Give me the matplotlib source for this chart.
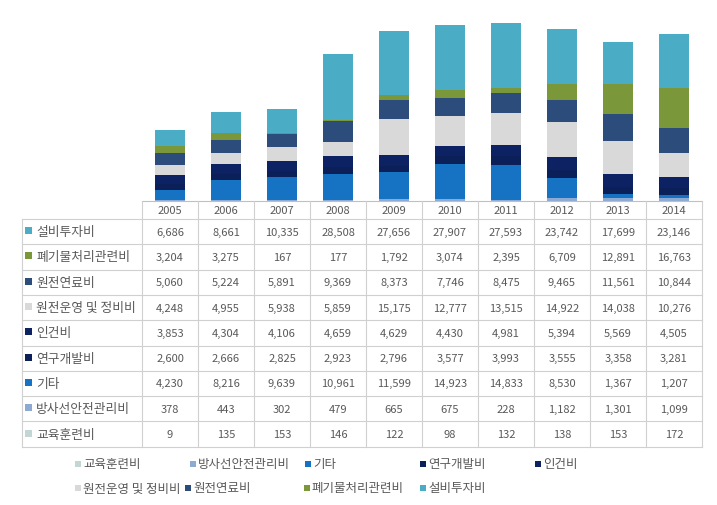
import matplotlib
matplotlib.use("Agg")
import matplotlib.pyplot as plt
from matplotlib.patches import Rectangle

plt.rcParams['font.family'] = ['Noto Sans CJK KR', 'DejaVu Sans']

years = ["2005", "2006", "2007", "2008", "2009", "2010", "2011", "2012", "2013", "2014"]

# stacking order (bottom -> top)
series_names = ["교육훈련비", "방사선안전관리비", "기타", "연구개발비", "인건비",
                "원전운영 및 정비비", "원전연료비", "폐기물처리관련비", "설비투자비"]

edu = [9, 135, 153, 146, 122, 98, 132, 138, 153, 172]
radiation = [378, 443, 302, 479, 665, 675, 228, 1182, 1301, 1099]
etc = [4230, 8216, 9639, 10961, 11599, 14923, 14833, 8530, 1367, 1207]
rnd = [2600, 2666, 2825, 2923, 2796, 3577, 3993, 3555, 3358, 3281]
labor = [3853, 4304, 4106, 4659, 4629, 4430, 4981, 5394, 5569, 4505]
operation = [4248, 4955, 5938, 5859, 15175, 12777, 13515, 14922, 14038, 10276]
fuel = [5060, 5224, 5891, 9369, 8373, 7746, 8475, 9465, 11561, 10844]
waste = [3204, 3275, 167, 177, 1792, 3074, 2395, 6709, 12891, 16763]
capex = [6686, 8661, 10335, 28508, 27656, 27907, 27593, 23742, 17699, 23146]

series_values = [edu, radiation, etc, rnd, labor, operation, fuel, waste, capex]
colors = ["#c3d6d6", "#8eaad2", "#1673c4", "#0b1f58", "#0c2262",
          "#d9d9d9", "#2c4d7b", "#7a983a", "#4bacc6"]

W, H = 717, 506
fig = plt.figure(figsize=(W / 100, H / 100), dpi=100)

# pixel geometry
x_left_tab = 22
x_lab_right = 142
col_w = 56
x_right = x_lab_right + col_w * len(years)
y_axis = 202
y_plot_top = 15
y_head_bottom = 220
row_h = 25.3

def fx(px):
    return px / W

def fy(py):
    return 1 - py / H

ax = fig.add_axes([fx(x_lab_right), fy(y_axis), fx(x_right) - fx(x_lab_right), fy(y_plot_top) - fy(y_axis)])
bottom = [0] * len(years)
xs = list(range(len(years)))
for name, vals, c in zip(series_names, series_values, colors):
    ax.bar(xs, vals, width=0.55, bottom=bottom, color=c, label=name, linewidth=0)
    bottom = [b + v for b, v in zip(bottom, vals)]
ax.set_xlim(-0.5, len(years) - 0.5)
ax.set_ylim(0, 80000)
ax.axis('off')

# overlay for table and legend, in pixel coordinates
ov = fig.add_axes([0, 0, 1, 1])
ov.set_xlim(0, W)
ov.set_ylim(H, 0)
ov.axis('off')
ov.patch.set_alpha(0)

grid_c = "#d0d0d0"
text_c = "#595959"
n_rows = len(series_names)
y_bottom_tab = y_head_bottom + row_h * n_rows

# axis line / header top
ov.plot([x_lab_right, x_right], [y_axis, y_axis], color="#c0c0c0", lw=0.8)
# vertical lines
for i in range(len(years) + 1):
    x = x_lab_right + i * col_w
    ov.plot([x, x], [y_axis, y_bottom_tab], color=grid_c, lw=0.8)
ov.plot([x_left_tab, x_left_tab], [y_head_bottom, y_bottom_tab], color=grid_c, lw=0.8)
# horizontal lines
for r in range(n_rows + 1):
    y = y_head_bottom + r * row_h
    ov.plot([x_left_tab, x_right], [y, y], color=grid_c, lw=0.8)

# header years
for i, yr in enumerate(years):
    ov.text(x_lab_right + (i + 0.5) * col_w, (y_axis + y_head_bottom) / 2 + 0.5, yr,
            ha='center', va='center', fontsize=8, color=text_c)

# rows (top = last series)
for r, idx in enumerate(reversed(range(n_rows))):
    yc = y_head_bottom + (r + 0.5) * row_h
    ov.add_patch(Rectangle((25, yc - 4.5), 7, 7, color=colors[idx], lw=0))
    ov.text(36, yc, series_names[idx], ha='left', va='center', fontsize=9.2, color=text_c)
    for i, v in enumerate(series_values[idx]):
        ov.text(x_lab_right + (i + 0.5) * col_w, yc, f"{v:,}", ha='center', va='center',
                fontsize=8, color=text_c)

# legend
legend_pos = [(78, 465), (193, 465), (308, 465), (423, 465), (538, 465),
              (78, 489), (188, 489), (307, 489), (423, 489)]
for (lx, ly), name, c in zip(legend_pos, series_names, colors):
    ov.add_patch(Rectangle((lx - 3, ly - 3.5), 6, 6, color=c, lw=0))
    ov.text(lx + 5, ly, name, ha='left', va='center', fontsize=9, color=text_c)

fig.savefig("out.png", dpi=100)
